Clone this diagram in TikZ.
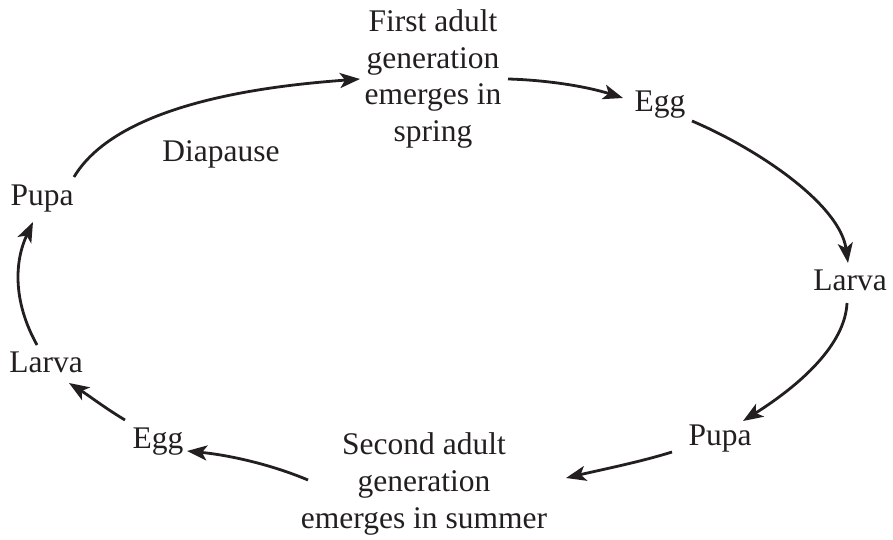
\documentclass[tikz,border=0pt]{standalone}
\usepackage{fontspec}
\setmainfont{Liberation Serif}
\usetikzlibrary{arrows.meta}
\definecolor{ink}{HTML}{231F20}
\tikzset{
  lbl/.style={text=ink, font=\fontsize{31.5}{36.7}\selectfont, align=center, inner sep=0pt},
  cyc/.style={draw=ink, line width=2.8pt, -{Stealth[length=20pt, width=15pt, inset=5pt]}}
}
\begin{document}
\begin{tikzpicture}[x=1pt, y=-1pt]
\useasboundingbox (0,0) rectangle (893,540);
\node[lbl] (first) at (433,79) {First adult\\generation\\emerges in\\spring};
\node[lbl] (egg1) at (660,105) {Egg};
\node[lbl] (larva1) at (850,280) {Larva};
\node[lbl] (pupa1) at (720,439) {Pupa};
\node[lbl] (second) at (424,484) {Second adult\\generation\\emerges in summer};
\node[lbl] (egg2) at (158,442) {Egg};
\node[lbl] (larva2) at (46,362) {Larva};
\node[lbl] (pupa2) at (42,199) {Pupa};
\node[lbl] (dia) at (221,154) {Diapause};
% connector ends
\coordinate (a1s) at (74,177);  \coordinate (a1e) at (360,79);
\coordinate (a2s) at (508,79);  \coordinate (a2e) at (623,98);
\coordinate (a3s) at (692,121); \coordinate (a3e) at (848,263);
\coordinate (a4s) at (847,303); \coordinate (a4e) at (743,421);
\coordinate (a5s) at (672,452); \coordinate (a5e) at (566,478);
\coordinate (a6s) at (308,480); \coordinate (a6e) at (187,451);
\coordinate (a7s) at (125,420); \coordinate (a7e) at (69,383);
\coordinate (a8s) at (37,345);  \coordinate (a8e) at (33,222);
\draw[cyc] (a1s) .. controls (120,100) and (280,85) .. (a1e);
\draw[cyc] (a2s) .. controls (545,80) and (585,86) .. (a2e);
\draw[cyc] (a3s) .. controls (760,150) and (840,205) .. (a3e);
\draw[cyc] (a4s) .. controls (845,345) and (800,385) .. (a4e);
\draw[cyc] (a5s) .. controls (640,462) and (600,470) .. (a5e);
\draw[cyc] (a6s) .. controls (270,464) and (228,455) .. (a6e);
\draw[cyc] (a7s) .. controls (105,408) and (88,395) .. (a7e);
\draw[cyc] (a8s) .. controls (12,300) and (15,260) .. (a8e);
\end{tikzpicture}
\end{document}
